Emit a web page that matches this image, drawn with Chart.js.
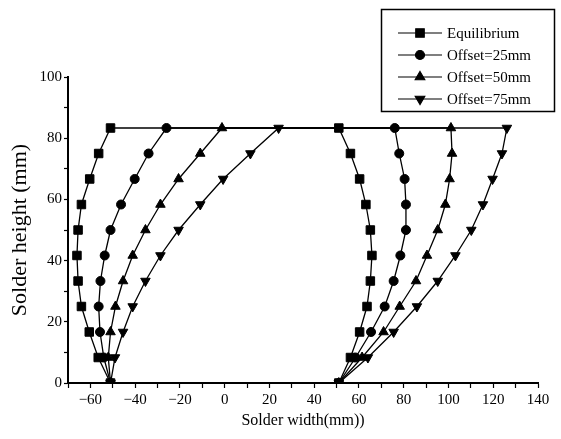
<!DOCTYPE html>
<html>
<head>
<meta charset="utf-8">
<script src="https://cdn.jsdelivr.net/npm/chart.js@4/dist/chart.umd.min.js"></script>
<style>
  html, body { margin: 0; padding: 0; background: #fff; }
  canvas { display: block; }
</style>
</head>
<body>
<canvas id="solder-chart" width="561" height="439"></canvas>
<script>
// Heights of the sampled levels (mm), bottom to top.
const heights = [0, 8.33, 16.67, 25, 33.33, 41.67, 50, 58.33, 66.67, 75, 83.33];

// Left profile widths (mm), bottom to top.
const eqLeft = [-51, -56.5, -60.5, -64, -65.5, -66, -65.5, -64, -60.3, -56.3, -51];
const off25Left = [-51, -54, -55.7, -56.3, -55.5, -53.6, -51, -46.3, -40.2, -34, -26];
const off50Left = [-51, -52, -51, -48.8, -45.4, -41.1, -35.4, -28.7, -20.6, -10.9, -1.2];
const off75Left = [-51, -49, -45.4, -41.1, -35.4, -28.7, -20.6, -10.9, -0.7, 11.5, 24.1];

// Right profile widths (mm), bottom to top.
const eqRight = [51, 56.2, 60.3, 63.6, 65.1, 65.8, 65.1, 63.1, 60.3, 56.2, 51];
const off25Right = [51, 58.5, 65.4, 71.5, 75.5, 78.5, 81, 81, 80.4, 78, 76];
const off50Right = [51, 61.4, 71, 78.2, 85.5, 90.4, 95.2, 98.6, 100.5, 101.6, 101.1];
const off75Right = [51, 64, 75.5, 85.9, 95.2, 103.1, 110.2, 115.4, 119.7, 123.9, 126.1];

const seriesNames = ['Equilibrium', 'Offset=25mm', 'Offset=50mm', 'Offset=75mm'];
const xTicksLabelled = [-60, -40, -20, 0, 20, 40, 60, 80, 100, 120, 140];
const yTicksLabelled = [0, 20, 40, 60, 80, 100];

// Up the left side, across the top, down the right side.
function contour(left, right) {
    const pts = left.map((x, i) => ({ x: x, y: heights[i] }));
    for (let i = right.length - 1; i >= 0; i--) {
        pts.push({ x: right[i], y: heights[i] });
    }
    return pts;
}

function series(label, left, right, style, radius, rotation) {
    return {
        label: label,
        data: contour(left, right),
        showLine: true,
        borderColor: '#000',
        borderWidth: 1.3,
        pointStyle: style,
        pointRadius: radius,
        pointRotation: rotation || 0,
        pointBackgroundColor: '#000',
        pointBorderColor: '#000',
        pointBorderWidth: 1,
        tension: 0,
    };
}

const serif = '"Liberation Serif", "DejaVu Serif", serif';

// Boxed legend with a line through each marker.
const boxLegend = {
    id: 'boxLegend',
    afterDraw(chart) {
        const ctx = chart.ctx;
        ctx.save();
        ctx.fillStyle = '#fff';
        ctx.fillRect(381, 9, 174, 103);
        ctx.strokeStyle = '#000';
        ctx.lineWidth = 1.5;
        ctx.strokeRect(381.5, 9.5, 173, 102);
        chart.data.datasets.forEach((ds, i) => {
            const y = 33 + i * 22;
            ctx.strokeStyle = '#000';
            ctx.lineWidth = 1.2;
            ctx.beginPath();
            ctx.moveTo(398, y);
            ctx.lineTo(442, y);
            ctx.stroke();
            ctx.fillStyle = '#000';
            Chart.helpers.drawPoint(ctx, {
                pointStyle: ds.pointStyle,
                radius: ds.pointRadius,
                rotation: ds.pointRotation,
                borderWidth: 1,
            }, 420, y);
            ctx.font = '15px ' + serif;
            ctx.textBaseline = 'middle';
            ctx.textAlign = 'left';
            ctx.fillText(ds.label, 447, y + 1);
        });
        ctx.restore();
    },
};

const ctx = document.getElementById('solder-chart').getContext('2d');

new Chart(ctx, {
    type: 'scatter',
    data: {
        datasets: [
            series(seriesNames[0], eqLeft, eqRight, 'rect', 6),
            series(seriesNames[1], off25Left, off25Right, 'circle', 4.5),
            series(seriesNames[2], off50Left, off50Right, 'triangle', 5.5),
            series(seriesNames[3], off75Left, off75Right, 'triangle', 5.5, 180),
        ],
    },
    options: {
        responsive: false,
        animation: false,
        devicePixelRatio: 1,
        layout: { padding: { top: 77, right: 23, left: 0, bottom: 0 } },
        plugins: {
            legend: { display: false },
            tooltip: { enabled: false },
        },
        scales: {
            x: {
                type: 'linear',
                min: -70,
                max: 140,
                afterFit(scale) { scale.height = 56; },
                ticks: {
                    stepSize: 10,
                    autoSkip: false,
                    maxRotation: 0,
                    color: '#000',
                    padding: 3,
                    font: { family: serif, size: 15 },
                    callback: (v) => xTicksLabelled.includes(v) ? (v < 0 ? '\u2212' + (-v) : String(v)) : '',
                },
                grid: {
                    drawOnChartArea: false,
                    color: '#000',
                    tickLength: 5,
                    tickWidth: 1.2,
                },
                border: { color: '#000', width: 2 },
                title: {
                    display: true,
                    text: 'Solder width(mm))',
                    color: '#000',
                    font: { family: serif, size: 16 },
                    padding: { bottom: 9 },
                },
            },
            y: {
                type: 'linear',
                min: 0,
                max: 100,
                afterFit(scale) { scale.width = 68; },
                ticks: {
                    stepSize: 10,
                    autoSkip: false,
                    color: '#000',
                    padding: 2,
                    font: { family: serif, size: 15 },
                    callback: (v) => yTicksLabelled.includes(v) ? String(v) : '',
                },
                grid: {
                    drawOnChartArea: false,
                    color: '#000',
                    tickLength: 4,
                    tickWidth: 1.2,
                },
                border: { color: '#000', width: 2 },
                title: {
                    display: true,
                    text: 'Solder height (mm)',
                    color: '#000',
                    font: { family: serif, size: 22 },
                    padding: { top: 7 },
                },
            },
        },
    },
    plugins: [boxLegend],
});
</script>
</body>
</html>
